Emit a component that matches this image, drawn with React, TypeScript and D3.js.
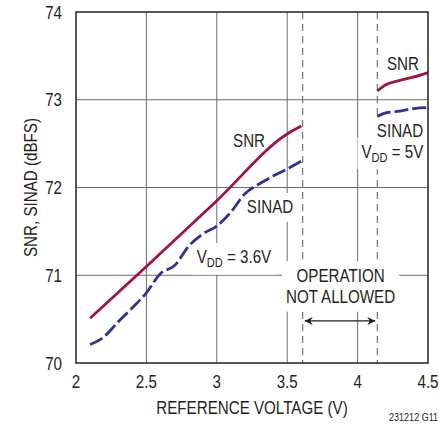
import React, { useEffect, useRef } from "react";
import * as d3 from "d3";

const snr36V = [2.1, 2.5, 3.0, 3.5, 3.6];
const snr36 = [70.51, 71.1, 71.85, 72.61, 72.7];
const sinad36V = [2.1, 2.2, 2.3, 2.4, 2.5, 2.6, 2.7, 2.8, 2.9, 3.0, 3.1, 3.2, 3.3, 3.4, 3.5, 3.6];
const sinad36 = [70.21, 70.3, 70.47, 70.63, 70.8, 71.02, 71.11, 71.33, 71.47, 71.56, 71.72, 71.93, 72.04, 72.13, 72.21, 72.3];
const snr5V = [4.14, 4.2, 4.3, 4.4, 4.5];
const snr5 = [73.1, 73.17, 73.22, 73.26, 73.31];
const sinad5V = [4.14, 4.2, 4.3, 4.4, 4.5];
const sinad5 = [72.81, 72.85, 72.87, 72.9, 72.91];

const xTicks = [2, 2.5, 3, 3.5, 4, 4.5];
const xTickLabels = ["2", "2.5", "3", "3.5", "4", "4.5"];
const yTicks = [70, 71, 72, 73, 74];
const limitLines = [3.61, 4.14];

const width = 439;
const height = 425;
const margin = { left: 76, right: 11, top: 12, bottom: 62 };
const font = "'Liberation Sans', Arial, sans-serif";
const RED = "#a3143f";
const BLUE = "#2e3192";
const INK = "#231f20";
const SQUEEZE = 0.82; // no narrow face installed, so squeeze the regular one

// condensed text: position, then squeeze horizontally
function NText(props: { x: number; y: number; anchor?: string; size?: number; rotate?: boolean; children: React.ReactNode }) {
  const { x, y, anchor = "start", size = 18.5, rotate = false, children } = props;
  return (
    <text
      transform={`translate(${x},${y})${rotate ? " rotate(-90)" : ""} scale(${SQUEEZE},1)`}
      textAnchor={anchor}
      fontSize={size}
    >
      {children}
    </text>
  );
}

export default function App() {
  const labelsRef = useRef<SVGGElement | null>(null);

  const x = d3.scaleLinear().domain([2, 4.5]).range([margin.left, width - margin.right]);
  const y = d3.scaleLinear().domain([70, 74]).range([height - margin.bottom, margin.top]);

  const line = d3
    .line<[number, number]>()
    .x((d) => x(d[0]))
    .y((d) => y(d[1]))
    .curve(d3.curveMonotoneX);

  const zip = (a: number[], b: number[]) => a.map((v, i) => [v, b[i]] as [number, number]);

  // white boxes behind the annotations so gridlines are cut, like the original
  useEffect(() => {
    const g = d3.select(labelsRef.current);
    g.selectAll("rect.bg").remove();
    g.selectAll<SVGGElement, unknown>("g.lbl").each(function () {
      const b = this.getBBox();
      const pad = 4;
      d3.select(this)
        .insert("rect", "text")
        .attr("class", "bg")
        .attr("x", b.x - pad)
        .attr("y", b.y - pad)
        .attr("width", b.width + pad * 2)
        .attr("height", b.height + pad * 2)
        .attr("fill", "white");
    });
  }, []);

  const x0 = margin.left;
  const x1 = width - margin.right;
  const y0 = margin.top;
  const y1 = height - margin.bottom;
  const arrowY = y(70.48);

  const vdd = (label: string) => (
    <>
      V<tspan fontSize={13.5} dy={4}>DD</tspan>
      <tspan dy={-4}>{label}</tspan>
    </>
  );

  return (
    <svg
      width={width}
      height={height}
      style={{ position: "absolute", left: 0, top: 0, background: "white" }}
      fontFamily={font}
    >
      <defs>
        <marker id="ah" viewBox="0 0 10 10" refX="10" refY="5" markerWidth="12" markerHeight="8" orient="auto-start-reverse" markerUnits="userSpaceOnUse">
          <path d="M0,0 L10,5 L0,10 L3,5 z" fill="#222" />
        </marker>
      </defs>

      {/* grid */}
      <g stroke="#6d6d6d" strokeWidth={1}>
        {xTicks.slice(1, -1).map((t) => (
          <line key={"gx" + t} x1={x(t)} x2={x(t)} y1={y0} y2={y1} />
        ))}
        {yTicks.slice(1, -1).map((t) => (
          <line key={"gy" + t} x1={x0} x2={x1} y1={y(t)} y2={y(t)} />
        ))}
      </g>
      <g stroke="#555" strokeWidth={1} strokeDasharray="7,5">
        {limitLines.map((v) => (
          <line key={"lim" + v} x1={x(v)} x2={x(v)} y1={y0} y2={y1} />
        ))}
      </g>

      {/* annotations */}
      <g ref={labelsRef} fill={INK}>
        <g className="lbl"><NText x={x(3.229)} y={y(72.467)} anchor="middle">SNR</NText></g>
        <g className="lbl"><NText x={x(3.378)} y={y(71.704)} anchor="middle">SINAD</NText></g>
        <g className="lbl"><NText x={x(2.857)} y={y(71.136)}>{vdd(" = 3.6V")}</NText></g>
        <g className="lbl">
          <NText x={x(3.879)} y={y(70.927)} anchor="middle">OPERATION</NText>
          <NText x={x(3.879)} y={y(70.68)} anchor="middle">NOT ALLOWED</NText>
        </g>
        <g className="lbl"><NText x={x(4.322)} y={y(73.339)} anchor="middle">SNR</NText></g>
        <g className="lbl"><NText x={x(4.301)} y={y(72.575)} anchor="middle">SINAD</NText></g>
        <g className="lbl"><NText x={x(4.467)} y={y(72.336)} anchor="end">{vdd(" = 5V")}</NText></g>
      </g>

      <line x1={x(limitLines[0]) + 2} x2={x(limitLines[1]) - 2} y1={arrowY} y2={arrowY} stroke="#222" strokeWidth={1.2} markerStart="url(#ah)" markerEnd="url(#ah)" />

      {/* curves */}
      <g fill="none" strokeWidth={2.8}>
        <path d={line(zip(snr36V, snr36)) ?? ""} stroke={RED} />
        <path d={line(zip(snr5V, snr5)) ?? ""} stroke={RED} />
        <path d={line(zip(sinad36V, sinad36)) ?? ""} stroke={BLUE} strokeDasharray="14,4" />
        <path d={line(zip(sinad5V, sinad5)) ?? ""} stroke={BLUE} strokeDasharray="14,4" />
      </g>

      {/* frame */}
      <rect x={x0} y={y0} width={x1 - x0} height={y1 - y0} fill="none" stroke={INK} strokeWidth={1.5} />

      {/* axes labels */}
      <g fill={INK}>
        {xTicks.map((t, i) => (
          <NText key={"xt" + t} x={x(t)} y={388} anchor="middle">{xTickLabels[i]}</NText>
        ))}
        {yTicks.map((t) => (
          <NText key={"yt" + t} x={62} y={y(t) + 6.5} anchor="end">{t}</NText>
        ))}
        <NText x={(x0 + x1) / 2} y={414} anchor="middle">REFERENCE VOLTAGE (V)</NText>
        <NText x={37} y={(y0 + y1) / 2} anchor="middle" rotate>SNR, SINAD (dBFS)</NText>
        <NText x={438} y={421} anchor="end" size={11}>231212 G11</NText>
      </g>
    </svg>
  );
}
